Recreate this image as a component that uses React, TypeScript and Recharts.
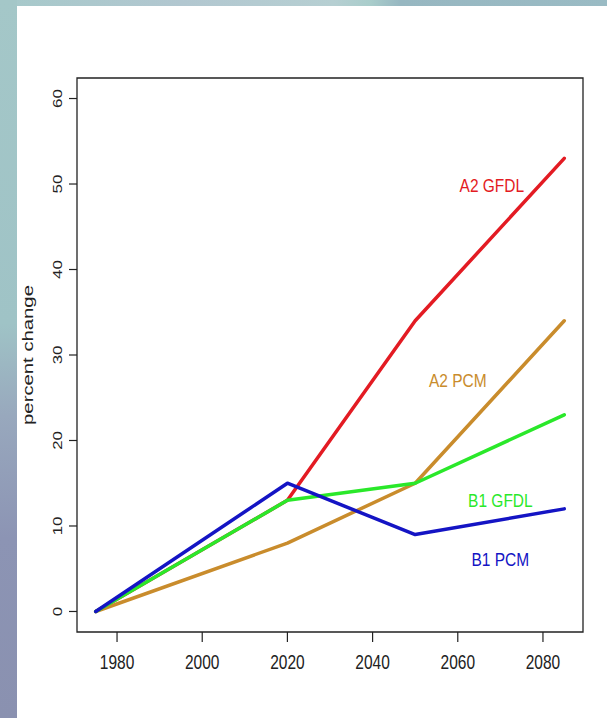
import { LineChart, Line, XAxis, YAxis, ReferenceArea, ReferenceDot } from 'recharts';

// scenario years (model periods)
const years = [1975, 2020, 2050, 2085];

// percent change per scenario / model
const a2Gfdl = [0, 13, 34, 53];
const a2Pcm = [0, 8, 15, 34];
const b1Gfdl = [0, 13, 15, 23];
const b1Pcm = [0, 15, 9, 12];

const xTicks = [1980, 2000, 2020, 2040, 2060, 2080];
const yTicks = [0, 10, 20, 30, 40, 50, 60];

const seriesNames = ['A2 GFDL', 'A2 PCM', 'B1 GFDL', 'B1 PCM'];
const seriesKeys = ['a2Gfdl', 'a2Pcm', 'b1Gfdl', 'b1Pcm'];
const seriesColors = ['#e31b23', '#c98c2c', '#2ae82a', '#1414c4'];

// where the in-plot labels sit (year, value)
const labelYears = [2068, 2060, 2070, 2070];
const labelValues = [49.8, 27, 13, 6.1];

const xDomain = [1970.6, 2089.4];
const yDomain = [-2.4, 62.4];

const data = years.map((year, i) => ({
  year,
  a2Gfdl: a2Gfdl[i],
  a2Pcm: a2Pcm[i],
  b1Gfdl: b1Gfdl[i],
  b1Pcm: b1Pcm[i],
}));

const FONT = '"Liberation Sans", Arial, Helvetica, sans-serif';

const XTick = ({ x, y, payload }: any) => (
  <g transform={`translate(${x},${y}) scale(1,1.3)`}>
    <text x={0} y={21} textAnchor="middle" fontFamily={FONT} fontSize={15.5} fill="#222">
      {payload.value}
    </text>
  </g>
);

const YTick = ({ y, payload }: any) => (
  <g transform={`translate(62,${y}) rotate(-90) scale(1.25,1)`}>
    <text x={0} y={0} textAnchor="middle" fontFamily={FONT} fontSize={13.5} fill="#222">
      {payload.value}
    </text>
  </g>
);

const YTitle = ({ viewBox }: any) => {
  const cy = viewBox.y + viewBox.height / 2;
  return (
    <g transform={`translate(33,${cy}) rotate(-90) scale(1.4,1)`}>
      <text x={0} y={0} textAnchor="middle" fontFamily={FONT} fontSize={14.5} fill="#222">
        percent change
      </text>
    </g>
  );
};

const seriesLabel = (name: string, color: string) => (props: any) => (
  <g transform={`translate(${props.cx},${props.cy}) scale(1,1.2)`}>
    <text x={0} y={5.5} textAnchor="middle" fontFamily={FONT} fontSize={15.5} fill={color}>
      {name}
    </text>
  </g>
);

export default function App() {
  return (
    <div style={{ position: 'absolute', left: 0, top: 0, width: 607, height: 718, background: '#fff', overflow: 'hidden' }}>
      <div
        style={{
          position: 'absolute',
          left: 0,
          top: 0,
          width: 607,
          height: 6,
          background:
            'linear-gradient(to right, #a6c9ca 0%, #b2c7d0 30%, #b6cfd2 55%, #a9cdcb 61%, #97b7c1 66%, #9abbc4 100%)',
        }}
      />
      <div
        style={{
          position: 'absolute',
          left: 0,
          top: 0,
          width: 17,
          height: 718,
          background:
            'linear-gradient(to bottom, #a4c7c8 0%, #9fc3c6 45%, #98a8bd 58%, #8c94b4 75%, #8a91b0 100%)',
        }}
      />
      <div style={{ position: 'absolute', left: 0, top: 0 }}>
        <LineChart width={607} height={718} data={data} margin={{ top: 78, right: 24, bottom: 46, left: 0 }}>
          <XAxis
            dataKey="year"
            type="number"
            domain={xDomain}
            ticks={xTicks}
            allowDataOverflow
            axisLine={false}
            tickSize={10}
            tickMargin={0}
            height={40}
            tickLine={{ stroke: '#222', strokeWidth: 1.2 }}
            tick={<XTick />}
          />
          <YAxis
            type="number"
            domain={yDomain}
            ticks={yTicks}
            allowDataOverflow
            axisLine={false}
            width={77}
            tickSize={8}
            tickMargin={2}
            tickLine={{ stroke: '#222', strokeWidth: 1.2 }}
            tick={<YTick />}
            label={{ content: <YTitle /> }}
          />
          <ReferenceArea
            x1={xDomain[0]}
            x2={xDomain[1]}
            y1={yDomain[0]}
            y2={yDomain[1]}
            fill="none"
            stroke="#222"
            strokeWidth={1.3}
          />
          {seriesKeys.map((key, i) => (
            <Line
              key={key}
              type="linear"
              dataKey={key}
              stroke={seriesColors[i]}
              strokeWidth={3.5}
              strokeLinecap="round"
              strokeLinejoin="round"
              dot={false}
              isAnimationActive={false}
            />
          ))}
          {seriesNames.map((name, i) => (
            <ReferenceDot
              key={name}
              x={labelYears[i]}
              y={labelValues[i]}
              r={0}
              shape={seriesLabel(name, seriesColors[i])}
            />
          ))}
        </LineChart>
      </div>
    </div>
  );
}
